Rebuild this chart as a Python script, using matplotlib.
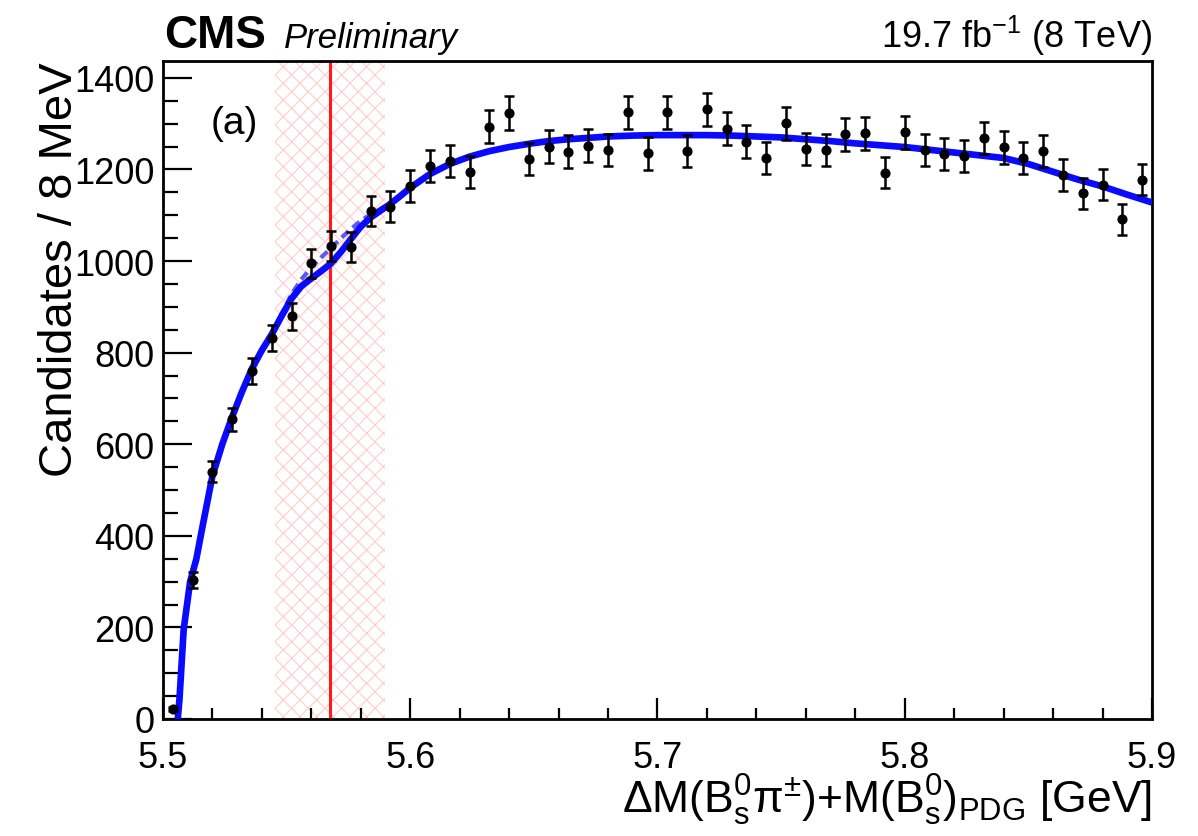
import numpy as np
import matplotlib
matplotlib.use("Agg")
import matplotlib.pyplot as plt
from matplotlib.ticker import MultipleLocator

plt.rcParams['font.family'] = ['Liberation Sans', 'DejaVu Sans']
plt.rcParams['mathtext.fontset'] = 'custom'
plt.rcParams['mathtext.rm'] = 'Liberation Sans'
plt.rcParams['mathtext.it'] = 'Liberation Sans:italic'
plt.rcParams['mathtext.bf'] = 'Liberation Sans:bold'
plt.rcParams['hatch.linewidth'] = 0.8

# data points (8 MeV bins)
bin_centers = [5.504, 5.512, 5.520, 5.528, 5.536, 5.544, 5.552, 5.560, 5.568, 5.576,
               5.584, 5.592, 5.600, 5.608, 5.616, 5.624, 5.632, 5.640, 5.648, 5.656,
               5.664, 5.672, 5.680, 5.688, 5.696, 5.704, 5.712, 5.720, 5.728, 5.736,
               5.744, 5.752, 5.760, 5.768, 5.776, 5.784, 5.792, 5.800, 5.808, 5.816,
               5.824, 5.832, 5.840, 5.848, 5.856, 5.864, 5.872, 5.880, 5.888, 5.896]
counts = [22, 303, 540, 654, 760, 832, 879, 995, 1033, 1031,
          1109, 1119, 1164, 1208, 1218, 1194, 1293, 1323, 1222, 1250,
          1239, 1252, 1242, 1325, 1235, 1325, 1240, 1331, 1289, 1261,
          1224, 1301, 1245, 1243, 1277, 1279, 1193, 1281, 1242, 1233,
          1230, 1269, 1248, 1224, 1241, 1188, 1148, 1167, 1091, 1178]

# total fit (solid)
fit_x = [5.506, 5.5067, 5.5084, 5.511, 5.5135, 5.516, 5.520, 5.524, 5.528, 5.532,
         5.536, 5.540, 5.544, 5.548, 5.552, 5.556, 5.560, 5.564, 5.568, 5.572,
         5.576, 5.580, 5.584, 5.588, 5.592, 5.596, 5.600, 5.608, 5.616, 5.624,
         5.632, 5.640, 5.648, 5.656, 5.664, 5.672, 5.680, 5.690, 5.700, 5.710,
         5.720, 5.730, 5.740, 5.750, 5.760, 5.770, 5.780, 5.790, 5.800, 5.810,
         5.820, 5.830, 5.840, 5.850, 5.860, 5.870, 5.880, 5.890, 5.900]
fit_y = [0, 44, 196, 300, 349, 420, 530, 600, 660, 715,
         765, 805, 840, 880, 918, 945, 962, 978, 995, 1020,
         1048, 1075, 1095, 1110, 1125, 1142, 1160, 1190, 1212, 1228,
         1240, 1249, 1256, 1262, 1266, 1269, 1272, 1274, 1275, 1275,
         1275, 1274, 1272, 1270, 1266, 1262, 1257, 1253, 1249, 1243,
         1237, 1231, 1225, 1212, 1195, 1178, 1163, 1145, 1128]

# background only (dashed), where it departs from the total
bkg_x = [5.536, 5.540, 5.544, 5.548, 5.552, 5.556, 5.560, 5.564, 5.568, 5.572,
         5.576, 5.580, 5.584, 5.588, 5.592, 5.596, 5.600]
bkg_y = [765, 805, 842, 884, 928, 960, 986, 1008, 1028, 1050,
         1070, 1088, 1102, 1114, 1127, 1142, 1160]

band_lo, band_hi = 5.5453, 5.5898
peak_x = 5.5677

fig = plt.figure(figsize=(11.98, 8.37), dpi=100)
ax = fig.add_axes([0.136, 0.1398, 0.8256, 0.7862])

ax.axvspan(band_lo, band_hi, facecolor='none', edgecolor='#ffcccc',
           hatch='xx', linewidth=0, zorder=1)
ax.axvline(peak_x, color='#ff1a1a', lw=2.2, zorder=2)

ax.plot(bkg_x, bkg_y, color='#5a5af0', lw=3, ls=(0, (2.2, 1.3)), zorder=3)
ax.plot(fit_x, fit_y, color='#0a0aff', lw=4.8, zorder=4, solid_capstyle='butt')

ax.errorbar(bin_centers, counts, yerr=np.sqrt(counts), fmt='o', color='black',
            ms=6.3, elinewidth=1.8, capsize=3.5, capthick=1.8, zorder=5)

ax.set_xlim(5.5, 5.9)
ax.set_ylim(0, 1437)
ax.xaxis.set_major_locator(MultipleLocator(0.1))
ax.xaxis.set_minor_locator(MultipleLocator(0.02))
ax.yaxis.set_major_locator(MultipleLocator(200))
ax.yaxis.set_minor_locator(MultipleLocator(50))
ax.xaxis.set_major_formatter(matplotlib.ticker.FormatStrFormatter('%.1f'))
ax.tick_params(which='both', direction='in', top=False, right=False,
               labelsize=26, width=1.6)
ax.tick_params(axis='y', which='major', length=21, pad=6)
ax.tick_params(axis='y', which='minor', length=11)
ax.tick_params(axis='x', which='major', length=15, pad=15)
ax.tick_params(axis='x', which='minor', length=8)
for s in ax.spines.values():
    s.set_linewidth(2)

ax.set_ylabel('Candidates / 8 MeV', fontsize=34, loc='top')
ax.yaxis.set_label_coords(-0.082, 1.0)
ax.set_xlabel(r'$\Delta$M(B$^{0}_{\rm s}$π$^{\pm}$)+M(B$^{0}_{\rm s}$)$_{\rm PDG}$ [GeV]',
              fontsize=32, loc='right')
ax.xaxis.set_label_coords(1.0, -0.08)

fig.text(0.137, 0.943, 'CMS', fontsize=33, fontweight='bold', ha='left', va='baseline')
fig.text(0.237, 0.943, 'Preliminary', fontsize=25, fontstyle='italic', ha='left', va='baseline')
fig.text(0.9616, 0.943, r'19.7 fb$^{-1}$ (8 TeV)', fontsize=26, ha='right', va='baseline')
ax.text(0.048, 0.905, '(a)', transform=ax.transAxes, fontsize=28, ha='left', va='center')

fig.savefig('out.png', dpi=100)
